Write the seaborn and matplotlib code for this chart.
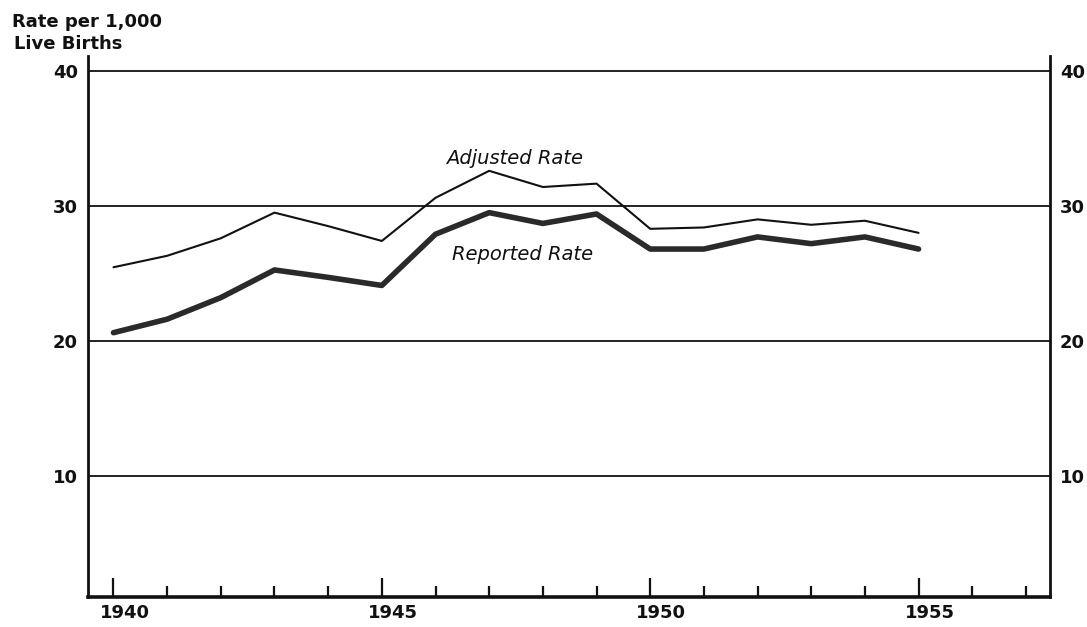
import numpy as np
import pandas as pd
import matplotlib
matplotlib.use("Agg")
import matplotlib.pyplot as plt
import matplotlib.transforms as mtransforms
import seaborn as sns

# ---------------------
# data
# ---------------------
years = [1940, 1941, 1942, 1943, 1944, 1945, 1946, 1947,
         1948, 1949, 1950, 1951, 1952, 1953, 1954, 1955]
adjusted = [25.45, 26.3, 27.6, 29.5, 28.5, 27.4, 30.6, 32.6,
            31.4, 31.65, 28.3, 28.4, 29.0, 28.6, 28.9, 28.0]
reported = [20.6, 21.6, 23.2, 25.25, 24.7, 24.1, 27.9, 29.5,
            28.7, 29.4, 26.8, 26.8, 27.7, 27.2, 27.7, 26.8]

y_ticks = [10, 20, 30, 40]
x_major = [1940, 1945, 1950, 1955]
x_minor = [1941, 1942, 1943, 1944, 1946, 1947, 1948, 1949,
           1951, 1952, 1953, 1954, 1956, 1957]

df = pd.DataFrame({"Year": years, "Adjusted": adjusted, "Reported": reported})

sns.set_style("white")
plt.rcParams['font.family'] = ['DejaVu Sans']

fig = plt.figure(figsize=(10.87, 6.27), dpi=100)
ax = fig.add_axes([0.0807, 0.0478, 0.966 - 0.0807, 0.9104 - 0.0478])

ink = "#111111"

sns.lineplot(data=df, x="Year", y="Adjusted", ax=ax, color=ink, lw=1.5)
sns.lineplot(data=df, x="Year", y="Reported", ax=ax, color="#2a2a2a", lw=4.0,
             solid_capstyle="round")

ax.set_xlim(1939.52, 1957.45)
ax.set_ylim(1.0, 41.1)

# horizontal rules
ax.set_yticks(y_ticks)
ax.grid(axis="y", color=ink, lw=1.3)
ax.grid(axis="x", visible=False)
ax.set_axisbelow(True)

# spines
ax.spines["top"].set_visible(False)
for s in ["left", "right"]:
    ax.spines[s].set_linewidth(2.0)
    ax.spines[s].set_color(ink)
ax.spines["bottom"].set_linewidth(2.6)
ax.spines["bottom"].set_color(ink)

# y labels on both sides
ax.tick_params(axis="y", length=0, labelright=True, labelleft=True,
               labelsize=13, pad=7, colors=ink)
for lab in ax.get_yticklabels():
    lab.set_fontweight("bold")
ax.set_ylabel("")
ax.set_xlabel("")

# year ticks pointing up from the base line
ax.set_xticks(x_major)
ax.set_xticks(x_minor, minor=True)
ax.set_xticklabels([str(y) for y in x_major], fontsize=13, fontweight="bold")
ax.tick_params(axis="x", which="both", bottom=True, top=False)
ax.tick_params(axis="x", which="major", direction="in", length=14, width=1.6,
               pad=5, colors=ink)
ax.tick_params(axis="x", which="minor", direction="in", length=8, width=1.6,
               colors=ink)
shift = mtransforms.ScaledTranslation(8 / 72, 0, fig.dpi_scale_trans)
for lab in ax.get_xticklabels():
    lab.set_transform(lab.get_transform() + shift)

# line labels
ax.text(1947.47, 33.5, "Adjusted Rate", fontsize=14, style="italic",
        ha="center", va="center", color=ink)
ax.text(1947.62, 26.4, "Reported Rate", fontsize=14, style="italic",
        ha="center", va="center", color=ink)

# axis title in the corner
fig.text(12 / 1087, 1 - 13 / 627, "Rate per 1,000", fontsize=13,
         fontweight="bold", ha="left", va="top", color=ink)
fig.text(14 / 1087, 1 - 35 / 627, "Live Births", fontsize=13,
         fontweight="bold", ha="left", va="top", color=ink)

plt.savefig("out.png", dpi=100)
